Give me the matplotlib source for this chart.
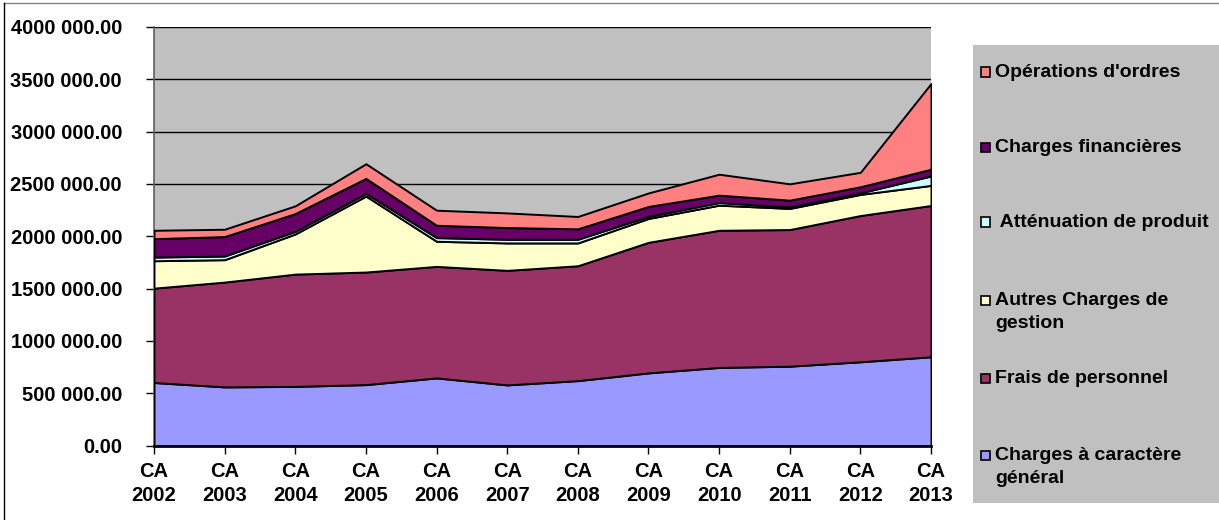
import matplotlib.pyplot as plt
from matplotlib.lines import Line2D
from matplotlib.patches import Rectangle
from matplotlib.ticker import FixedLocator, FuncFormatter

plt.rcParams["font.family"] = ["Liberation Sans", "DejaVu Sans"]
plt.rcParams["font.weight"] = "bold"

YEARS = ["2002", "2003", "2004", "2005", "2006", "2007",
         "2008", "2009", "2010", "2011", "2012", "2013"]

# values
charges_generales = [602000, 560000, 565000, 582000, 646000, 579000,
                     620000, 694000, 746000, 758000, 800000, 848000]
frais_personnel = [902000, 1002000, 1073000, 1076000, 1066000, 1095000,
                   1098000, 1248000, 1311000, 1306000, 1398000, 1446000]
autres_charges = [262000, 214000, 384000, 726000, 240000, 262000,
                  218000, 228000, 240000, 202000, 202000, 192000]
attenuation = [35000, 35000, 25000, 25000, 35000, 35000,
               35000, 20000, 25000, 15000, 15000, 90000]
charges_fin = [176000, 186000, 170000, 144000, 118000, 112000,
               100000, 95000, 71000, 64000, 58000, 65000]
operations_ordres = [80000, 70000, 74000, 140000, 144000, 140000,
                     118000, 129000, 200000, 156000, 138000, 819000]

SERIES = [
    ("Charges à caractère\ngénéral", charges_generales, "#9999FF"),
    ("Frais de personnel", frais_personnel, "#993366"),
    ("Autres Charges de\ngestion", autres_charges, "#FFFFCC"),
    (" Atténuation de produit", attenuation, "#CCFFFF"),
    ("Charges financières", charges_fin, "#660066"),
    ("Opérations d'ordres", operations_ordres, "#FF8080"),
]

W, H = 1219, 520
fig = plt.figure(figsize=(W / 100, H / 100), dpi=100)
ax = fig.add_axes([154 / W, 1 - 445.5 / H, (931 - 154) / W, (445.5 - 27) / H])
ax.set_facecolor("#C0C0C0")

x = list(range(len(YEARS)))
ax.stackplot(
    x,
    *[s[1] for s in SERIES],
    colors=[s[2] for s in SERIES],
    edgecolor="black",
    linewidth=1.4,
    zorder=3,
)

ax.set_xlim(0, len(YEARS) - 1)
ax.set_ylim(0, 4000000)
ax.yaxis.set_major_locator(FixedLocator(range(0, 4000001, 500000)))


def fmt(v, pos):
    v = int(round(v))
    if v < 1000:
        return f"{v}.00"
    return f"{v // 1000} {v % 1000:03d}.00"


ax.yaxis.set_major_formatter(FuncFormatter(fmt))
ax.grid(axis="y", color="black", linewidth=1, zorder=1)
ax.grid(axis="x", visible=False)
ax.set_axisbelow(True)

ax.set_xticks(x)
ax.set_xticklabels([f"CA\n{y}" for y in YEARS], fontsize=14.5, fontweight="bold",
                   linespacing=1.3)
ax.tick_params(axis="x", direction="out", length=6, width=1, pad=6)
ax.tick_params(axis="y", direction="out", length=6, width=1, pad=17,
               labelsize=14.5)

for side in ["top", "right"]:
    ax.spines[side].set_visible(False)
ax.spines["left"].set_color("#606060")
ax.spines["left"].set_linewidth(1.2)
ax.spines["bottom"].set_linewidth(2)
ax.spines["bottom"].set_zorder(5)

# legend panel on the right
fig.patches.append(Rectangle((973 / W, 1 - 503 / H), (W - 973) / W, (503 - 45) / H,
                             transform=fig.transFigure, facecolor="#C0C0C0",
                             edgecolor="none", zorder=0))
legend_y = [72, 147, 222, 300, 378, 455]
for (label, _, color), ly in zip(reversed(SERIES), legend_y):
    fig.patches.append(Rectangle((981 / W, 1 - (ly + 4.5) / H), 9 / W, 9 / H,
                                 transform=fig.transFigure, facecolor=color,
                                 edgecolor="black", linewidth=1.2, zorder=2))
    for i, line in enumerate(label.split("\n")):
        fig.text(995 / W, 1 - (ly + 5 + 23 * i) / H, line, fontsize=14,
                 fontweight="bold", va="baseline", ha="left")

# outer frame of the chart
fig.lines.append(Line2D([4 / W, 1], [1 - 3 / H, 1 - 3 / H], transform=fig.transFigure,
                        color="#808080", linewidth=1))
fig.lines.append(Line2D([4 / W, 4 / W], [0, 1 - 3 / H], transform=fig.transFigure,
                        color="black", linewidth=1))

fig.savefig("out.png", dpi=100)
